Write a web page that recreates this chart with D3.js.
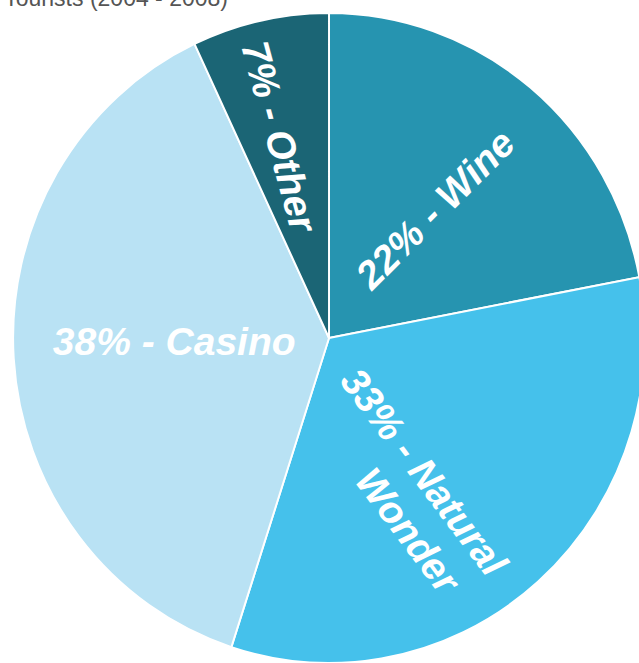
<!DOCTYPE html>
<html>
<head>
<meta charset="utf-8">
<script src="https://cdn.jsdelivr.net/npm/d3@7"></script>
<style>
  html, body { margin: 0; padding: 0; background: #fff; }
  svg { display: block; }
</style>
</head>
<body>
<div id="chart"></div>
<script>
// Daten
const categories = ['Wine', 'Natural Wonder', 'Casino', 'Other'];
const shares = [22, 33, 38, 7];
const labelLines = [
    ['22% - Wine'],
    ['33% - Natural', 'Wonder'],
    ['38% - Casino'],
    ['7% - Other']
];
const titleText = 'Main Motivation of Chinese Tourists (2004 - 2008)';

const width = 639;
const height = 663;
const cx = 329, cy = 338;
const radius = 325;

const colors = ['#2694b0', '#45c1eb', '#b9e2f4', '#1b6575'];

// Label layout: radius factor, angle shift (deg), rotation (deg), second line shift
const labelLayout = [
    { r: 0.52, shift: 0.5, rot: -45 },
    { r: 0.515, shift: 13.5, rot: 53, lineShift: 37 },
    { r: 0.49, shift: 2.6, rot: 0 },
    { r: 0.64, shift: -1.5, rot: 75 }
];

const svg = d3.select('#chart').append('svg')
    .attr('width', width)
    .attr('height', height);

// Titel (oben abgeschnitten)
svg.append('text')
    .attr('x', 228)
    .attr('y', 6)
    .attr('text-anchor', 'end')
    .style('font-family', '"Liberation Sans", Arial, sans-serif')
    .style('font-size', '23px')
    .style('fill', '#555')
    .text(titleText);

const pie = d3.pie().sort(null).value(d => d);
const arcs = pie(shares);

const arc = d3.arc().innerRadius(0).outerRadius(radius);

const g = svg.append('g')
    .attr('transform', `translate(${cx},${cy}) scale(0.972,1)`);

g.selectAll('path.slice')
    .data(arcs)
    .join('path')
    .attr('class', 'slice')
    .attr('d', arc)
    .attr('fill', (d, i) => colors[i])
    .attr('stroke', '#fff')
    .attr('stroke-width', 2)
    .attr('stroke-linejoin', 'round');

// Labels
const labels = svg.append('g')
    .attr('transform', `translate(${cx},${cy})`);

arcs.forEach((d, i) => {
    const lay = labelLayout[i];
    const mid = (d.startAngle + d.endAngle) / 2 + lay.shift * Math.PI / 180;
    const lr = radius * lay.r;
    const x = Math.sin(mid) * lr * 0.972;
    const y = -Math.cos(mid) * lr;
    const lines = labelLines[i];
    const lineH = 48;

    const t = labels.append('g')
        .attr('transform', `translate(${x},${y}) rotate(${lay.rot})`);

    lines.forEach((line, j) => {
        const offY = (j - (lines.length - 1) / 2) * lineH;
        t.append('text')
            .attr('x', j > 0 ? (lay.lineShift || 0) : 0)
            .attr('y', offY)
            .attr('dy', '0.36em')
            .attr('text-anchor', 'middle')
            .style('font-family', '"Liberation Sans", Arial, sans-serif')
            .style('font-weight', '700')
            .style('font-style', 'italic')
            .style('font-size', '39px')
            .style('fill', '#fff')
            .text(line);
    });
});
</script>
</body>
</html>
